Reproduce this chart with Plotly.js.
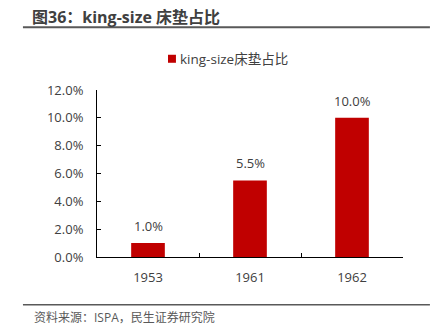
<!DOCTYPE html>
<html>
<head>
<meta charset="utf-8">
<script src="https://cdn.plot.ly/plotly-3.0.1.min.js"></script>
<style>
  html, body { margin: 0; padding: 0; background: #fff; }
  #chart { width: 437px; height: 331px; }
</style>
</head>
<body>
<div id="chart"></div>
<script>
const categories = ['1953', '1961', '1962'];
const values = [1.0, 5.5, 10.0];
const labels = ['1.0%', '5.5%', '10.0%'];
const yTickVals = [0, 2, 4, 6, 8, 10, 12];
const yTickText = ['0.0%', '2.0%', '4.0%', '6.0%', '8.0%', '10.0%', '12.0%'];
const seriesName = 'king-size床垫占比';
const titleText = '图36：king-size 床垫占比';
const sourceText = '资料来源：ISPA，民生证券研究院';

const FONT = 'Open Sans, "Noto Sans CJK SC", sans-serif';
const TXT = '#404040';
const BAR = '#C00000';

const trace = {
  type: 'bar',
  x: categories,
  y: values,
  name: seriesName,
  marker: { color: BAR },
  hoverinfo: 'none',
  showlegend: false
};

// category index used for annotation positions (numeric-like category names)
const annotations = categories.map((c, i) => ({
  x: i, y: values[i], xref: 'x', yref: 'y',
  text: labels[i], showarrow: false,
  yanchor: 'bottom', yshift: 6,
  font: { family: FONT, size: 13, color: TXT }
}));
annotations.push({
  x: -0.212, y: -0.363, xref: 'paper', yref: 'paper',
  xanchor: 'left', yanchor: 'middle',
  text: sourceText, showarrow: false,
  font: { family: FONT, size: 12, color: '#595959' }
});
// legend label
annotations.push({
  x: 0.265, y: 1.187, xref: 'paper', yref: 'paper',
  xanchor: 'left', yanchor: 'middle',
  text: seriesName, showarrow: false,
  font: { family: FONT, size: 13.5, color: TXT }
});

const layout = {
  width: 437, height: 331,
  margin: { l: 97, r: 34, t: 90, b: 74 },
  paper_bgcolor: '#fff', plot_bgcolor: '#fff',
  font: { family: FONT, color: TXT, size: 12.5 },
  title: {
    text: '<b>' + titleText + '</b>',
    x: 32 / 437, xanchor: 'left', xref: 'container',
    y: 1 - 17.5 / 331, yanchor: 'middle', yref: 'container',
    font: { family: FONT, size: 16, color: '#404040' }
  },
  showlegend: false,
  bargap: 0.67,
  xaxis: {
    type: 'category',
    range: [-0.5, categories.length - 0.5],
    showline: true, linecolor: '#000', linewidth: 1,
    ticks: 'inside', tickson: 'boundaries', ticklen: 4, tickcolor: '#000',
    showgrid: false, zeroline: false,
    tickangle: 0,
    ticklabelstandoff: 8,
    tickfont: { family: FONT, size: 13, color: TXT },
    fixedrange: true
  },
  yaxis: {
    range: [0, 12],
    tickvals: yTickVals, ticktext: yTickText,
    showline: true, linecolor: '#000', linewidth: 1,
    ticks: 'inside', ticklen: 4, tickcolor: '#000',
    showgrid: false, zeroline: false,
    ticklabelstandoff: 10,
    tickfont: { family: FONT, size: 13, color: TXT },
    fixedrange: true
  },
  shapes: [
    { type: 'line', xref: 'paper', yref: 'paper', x0: -0.242, x1: 1.088, y0: 1.376, y1: 1.376,
      line: { color: '#595959', width: 2 } },
    { type: 'line', xref: 'paper', yref: 'paper', x0: -0.242, x1: 1.088, y0: -0.286, y1: -0.286,
      line: { color: '#595959', width: 1.5 } },
    // legend swatch
    { type: 'rect', xref: 'paper', yref: 'paper', x0: 0.232, x1: 0.258, y0: 1.163, y1: 1.211,
      fillcolor: BAR, line: { width: 0 } }
  ],
  annotations: annotations
};

Plotly.newPlot('chart', [trace], layout, { staticPlot: true, displayModeBar: false });
</script>
</body>
</html>
